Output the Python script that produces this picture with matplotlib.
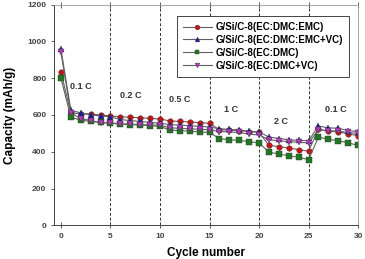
import matplotlib
matplotlib.use('Agg')
import matplotlib.pyplot as plt

plt.rcParams['font.family'] = ['Liberation Sans', 'DejaVu Sans']

cycles = list(range(31))
red = [833, 610, 608, 605, 600, 595, 590, 588, 585, 582, 578, 568, 565, 562, 558, 555,
       520, 518, 515, 510, 505, 435, 428, 420, 412, 403, 522, 512, 508, 498, 487]
blue = [958, 625, 612, 600, 595, 590, 575, 570, 565, 560, 555, 548, 545, 542, 538, 535,
        525, 522, 518, 512, 508, 480, 472, 465, 462, 460, 540, 530, 528, 515, 510]
green = [800, 588, 572, 565, 560, 555, 550, 548, 545, 542, 538, 518, 515, 512, 508, 505,
         472, 465, 462, 455, 448, 398, 388, 378, 370, 357, 480, 468, 460, 448, 435]
magenta = [940, 612, 580, 570, 558, 558, 552, 550, 548, 545, 545, 530, 528, 525, 522, 520,
           510, 508, 505, 495, 492, 465, 460, 455, 452, 448, 520, 515, 512, 505, 500]
labels = ['G/Si/C-8(EC:DMC:EMC)', 'G/Si/C-8(EC:DMC:EMC+VC)',
          'G/Si/C-8(EC:DMC)', 'G/Si/C-8(EC:DMC+VC)']
rate_x = [2.0, 7.0, 12.0, 17.2, 22.2, 27.8]
rate_y = [755, 708, 685, 628, 565, 632]
rate_txt = ['0.1 C', '0.2 C', '0.5 C', '1 C', '2 C', '0.1 C']
boundaries = [5, 10, 15, 20, 25]

fig = plt.figure(figsize=(3.65, 2.59), dpi=100)
ax = fig.add_axes([0.148, 0.13, 0.833, 0.852])

series = [(red, 'o', '#d01010'), (blue, '^', '#1a1aa8'),
          (green, 's', '#1f7a1f'), (magenta, 'v', '#c030c8')]
for (vals, m, c), lab in zip(series, labels):
    ax.plot(cycles, vals, color='#606060', lw=0.8, marker=m, ms=4,
            mfc=c, mec='#333333', mew=0.3, label=lab)

for b in boundaries:
    ax.axvline(b, color='#333333', ls=(0, (3, 2)), lw=0.7, zorder=0)

for x, y, t in zip(rate_x, rate_y, rate_txt):
    ax.text(x, y, t, fontsize=6.5, fontweight='bold', color='#333333',
            ha='center', va='center')

ax.set_xlim(-0.7, 30)
ax.set_ylim(0, 1200)
ax.set_xticks([0, 5, 10, 15, 20, 25, 30])
ax.set_yticks(range(0, 1201, 200))
ax.tick_params(labelsize=6, colors='#444444', length=2, width=0.6)
ax.tick_params(axis='x', direction='inout', length=4, top=True)
for lbl in ax.get_xticklabels() + ax.get_yticklabels():
    lbl.set_fontweight('bold')
for s in ['top', 'right']:
    ax.spines[s].set_color('#999999')
    ax.spines[s].set_linewidth(0.6)
for s in ['left', 'bottom']:
    ax.spines[s].set_color('#444444')
    ax.spines[s].set_linewidth(0.7)
ax.set_xlabel('Cycle number', fontsize=8.5, fontweight='bold', labelpad=5)
ax.set_ylabel('Capacity (mAh/g)', fontsize=8.5, fontweight='bold', labelpad=8)

leg = ax.legend(loc='upper right', bbox_to_anchor=(0.985, 0.97),
                prop={'weight': 'bold', 'size': 7}, fancybox=False,
                edgecolor='#444444', framealpha=1, handlelength=3.0,
                labelspacing=0.3, borderpad=0.6, handletextpad=0.35,
                markerscale=0.85)
leg.get_frame().set_linewidth(0.7)

fig.savefig('out.png', dpi=100)
